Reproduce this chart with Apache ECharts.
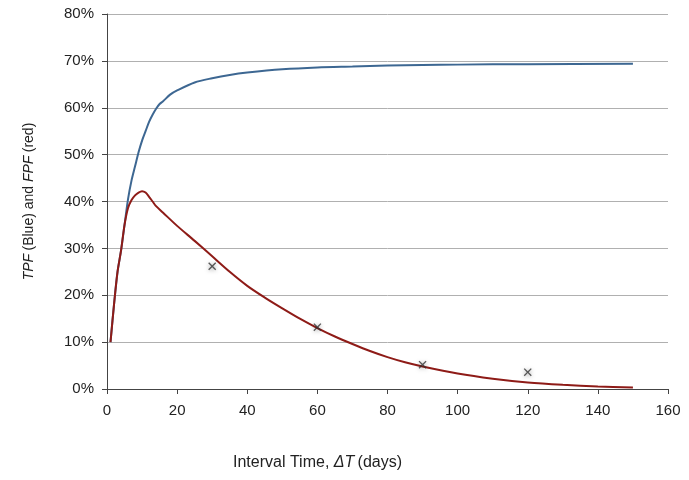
<!DOCTYPE html>
<html>
<head>
<meta charset="utf-8">
<script src="https://cdn.jsdelivr.net/npm/echarts@6/dist/echarts.min.js"></script>
<style>
    html, body { margin: 0; padding: 0; background: #fff; }
    #main { width: 689px; height: 480px; }
</style>
</head>
<body>
<div id="main"></div>
<script>
// 数据
let tpfDays = [1, 2, 3, 4, 5, 6, 7, 8, 9, 10, 11, 12, 13, 14, 15, 16, 18, 20, 25, 30, 35, 40, 50, 60, 70, 80, 90, 100, 120, 150]
let tpfValues = [10, 18, 25, 29.5, 35, 40.5, 44.5, 47.5, 50.5, 53, 55, 57, 58.5, 59.8, 60.8, 61.4, 62.8, 63.7, 65.4, 66.3, 67, 67.5, 68.2, 68.6, 68.8, 69, 69.1, 69.2, 69.3, 69.4]

let fpfDays = [1, 2, 3, 4, 5, 6, 7, 8, 9, 10, 11, 12, 13, 14, 16, 20, 25, 30, 35, 40, 45, 50, 55, 60, 65, 70, 75, 80, 85, 90, 100, 110, 120, 130, 140, 150]
let fpfValues = [10, 18, 25, 29.5, 35, 38.6, 40.3, 41.3, 41.9, 42.2, 41.9, 41, 40, 39, 37.6, 34.8, 31.6, 28.3, 25, 22, 19.5, 17.2, 15, 13, 11.2, 9.6, 8.1, 6.8, 5.7, 4.8, 3.3, 2.2, 1.4, 0.9, 0.55, 0.3]

let obsDays = [30, 60, 90, 120]
let obsValues = [26.2, 13.2, 5.2, 3.6]

let xTicks = [0, 20, 40, 60, 80, 100, 120, 140, 160]
let cutoffDay = 82

let myChart = echarts.init(document.getElementById('main'))

let font = '"Liberation Sans", Arial, sans-serif'
let crossPath = 'path://M0,1.2L1.2,0L5,3.8L8.8,0L10,1.2L6.2,5L10,8.8L8.8,10L5,6.2L1.2,10L0,8.8L3.8,5Z'

let option = {
    animation: false,
    backgroundColor: '#fff',
    grid: { left: 107, right: 21, top: 14, bottom: 91 },
    xAxis: {
        type: 'value',
        min: xTicks[0],
        max: xTicks[xTicks.length - 1],
        interval: 20,
        axisLine: { lineStyle: { color: '#444', width: 1 } },
        axisTick: { show: true, length: 5, lineStyle: { color: '#444' } },
        axisLabel: { color: '#222', fontSize: 15, fontFamily: font, margin: 14 },
        splitLine: { show: false }
    },
    yAxis: {
        type: 'value',
        min: 0,
        max: 80,
        interval: 10,
        name: '{i|TPF} {n|(Blue) and }{i|FPF} {n|(red)}',
        nameLocation: 'middle',
        nameGap: 71,
        nameRotate: 90,
        nameTextStyle: {
            rich: {
                i: { fontStyle: 'italic', fontSize: 14, color: '#222', fontFamily: font },
                n: { fontSize: 14, color: '#222', fontFamily: font }
            }
        },
        axisLine: { show: true, lineStyle: { color: '#444', width: 1 } },
        axisTick: { show: true, length: 5, lineStyle: { color: '#444' } },
        axisLabel: { color: '#222', fontSize: 15, fontFamily: font, margin: 13, formatter: '{value}%' },
        splitLine: { show: true, lineStyle: { color: '#b0b0b0', width: 1 } }
    },
    graphic: [{
        type: 'text',
        left: 233,
        top: 455,
        style: {
            text: '{n|Interval Time, }{i|ΔT} {n|(days)}',
            rich: {
                i: { fontStyle: 'italic', fontSize: 16, fill: '#222', fontFamily: font },
                n: { fontSize: 16, fill: '#222', fontFamily: font }
            }
        }
    }],
    series: [{
        name: 'TPF',
        type: 'line',
        data: tpfDays.map((d, i) => [d, tpfValues[i]]),
        smooth: 0.3,
        symbol: 'none',
        lineStyle: { color: '#3d6792', width: 2 },
        z: 3
    }, {
        name: 'FPF',
        type: 'line',
        data: fpfDays.map((d, i) => [d, fpfValues[i]]),
        smooth: 0.3,
        symbol: 'none',
        lineStyle: { color: '#8e1b17', width: 2 },
        z: 4,
        markLine: {
            silent: true,
            symbol: 'none',
            label: { show: false },
            lineStyle: { color: '#555', type: [2, 2], width: 1 },
            data: [[{ coord: [cutoffDay, 0] }, { coord: [cutoffDay, 81.5] }]]
        }
    }, {
        name: 'Observed',
        type: 'scatter',
        data: obsDays.map((d, i) => [d, obsValues[i]]),
        symbol: crossPath,
        symbolSize: 8,
        itemStyle: {
            color: '#333',
            shadowColor: 'rgba(0,0,0,0.45)',
            shadowBlur: 4,
            shadowOffsetY: 1
        },
        z: 5
    }]
}

myChart.setOption(option)
</script>
</body>
</html>
